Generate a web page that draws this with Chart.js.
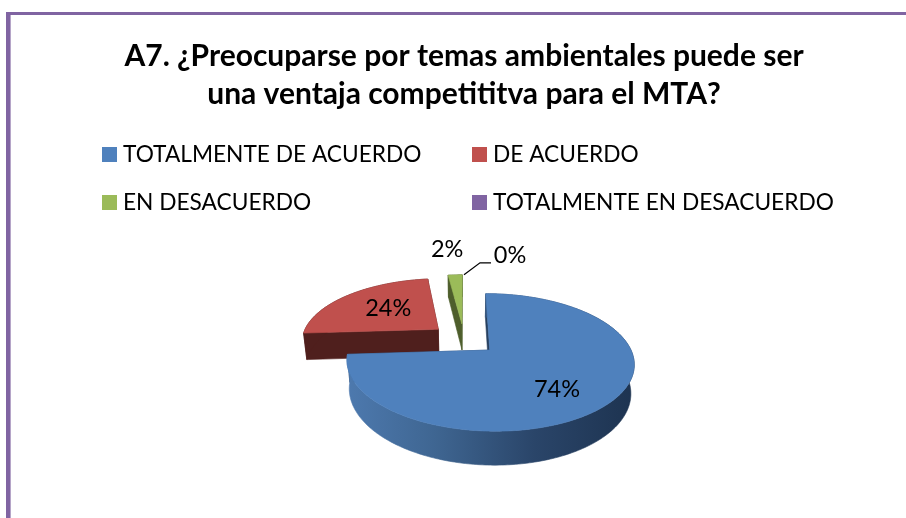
<!DOCTYPE html>
<html>
<head>
<meta charset="utf-8">
<style>
html,body{margin:0;padding:0;background:#fff;overflow:hidden;width:906px;height:518px}
#wrap{position:absolute;left:0;top:0;width:906px;height:518px}
#frame{position:absolute;left:6px;top:12px;width:2000px;height:2000px;border-top:3px solid #8064a2;border-left:4px solid #8064a2;box-shadow:inset 1px 0 0 #b5a5c8}
canvas{position:absolute;left:0;top:0}
</style>
</head>
<body>
<div id="frame"></div>
<div id="wrap"><canvas id="c" width="906" height="518"></canvas></div>
<script src="https://cdn.jsdelivr.net/npm/chart.js@4/dist/chart.umd.js"></script>
<script>
const titleLines = ['A7. ¿Preocuparse por temas ambientales puede ser', 'una ventaja competititva para el MTA?'];
const categories = ['TOTALMENTE DE ACUERDO', 'DE ACUERDO', 'EN DESACUERDO', 'TOTALMENTE EN DESACUERDO'];
const values = [74, 24, 2, 0];
const percentLabels = ['74%', '24%', '2%', '0%'];
const topColors = ['#4f81bd', '#c0504d', '#9bbb59', '#8064a2'];
const wallColors = ['#27405f', '#4f1f1d', '#4e5e2c', '#403251'];

const FONT = 'Lato, Carlito, sans-serif';
const PERSPECTIVE = 0.175, SQUASH = 63.5 / 139, DEPTH = 27, SHRINK = 0.02;
const legendCols = [102, 472], legendRows = [154.5, 202.5], SWATCH = 15, LEGEND_GAP = 21;
// label anchor per slice: radius fraction, and pixel nudge
const labelPlace = [[0.62, -4, 9], [0.62, 8, 1], [1.0, -8, -25], [1.0, 46, -19]];

function projector(arc) {
  const R = arc.outerRadius;
  return (u, v, low) => {
    const k = 1 / (1 - PERSPECTIVE * v);
    let x = R * u * k, y = R * SQUASH * v * k;
    if (low) { y += DEPTH * k; x *= (1 - SHRINK); }
    return [arc.x + x, arc.y + y];
  };
}
function sliceInfo(arc) {
  const R = arc.outerRadius, off = (arc.options.offset || 0) / 4 / R;
  const mid = (arc.startAngle + arc.endAngle) / 2;
  return {ox: Math.cos(mid) * off, oy: Math.sin(mid) * off, mid};
}
function poly(ctx, pts, fill) {
  ctx.beginPath();
  pts.forEach((p, i) => i ? ctx.lineTo(p[0], p[1]) : ctx.moveTo(p[0], p[1]));
  ctx.closePath();
  ctx.fillStyle = fill; ctx.strokeStyle = fill; ctx.lineWidth = 0.6;
  ctx.fill(); ctx.stroke();
}
function drawSlice(ctx, arc, i) {
  if (arc.endAngle - arc.startAngle <= 0) return;
  const P = projector(arc), s = sliceInfo(arc);
  const N = Math.max(4, Math.round((arc.endAngle - arc.startAngle) * 60));
  const rim = low => {
    const a = [];
    for (let k = 0; k <= N; k++) {
      const t = arc.startAngle + (arc.endAngle - arc.startAngle) * k / N;
      a.push(P(s.ox + Math.cos(t), s.oy + Math.sin(t), low));
    }
    return a;
  };
  const hi = rim(false), lo = rim(true);
  const apexHi = P(s.ox, s.oy, false), apexLo = P(s.ox, s.oy, true);
  // radial walls
  poly(ctx, [apexHi, hi[0], lo[0], apexLo], wallColors[i]);
  poly(ctx, [apexHi, hi[N], lo[N], apexLo], wallColors[i]);
  // outer wall
  let wall = wallColors[i];
  if (i === 0) {
    const g = ctx.createLinearGradient(hi[N][0], 0, hi[N][0] + 288, 0);
    g.addColorStop(0, '#4d79ae');
    g.addColorStop(0.3, '#3f6692');
    g.addColorStop(0.65, '#2a4569');
    g.addColorStop(1, '#1d3350');
    wall = g;
  }
  poly(ctx, hi.concat(lo.slice().reverse()), wall);
  // top face
  poly(ctx, [apexHi].concat(hi), topColors[i]);
}

const pie3d = {
  id: 'pie3d',
  beforeDatasetsDraw(chart) {
    const ctx = chart.ctx, arcs = chart.getDatasetMeta(0).data;
    ctx.save();
    [1, 2, 3, 0].forEach(i => drawSlice(ctx, arcs[i], i));
    ctx.restore();
    return false;
  },
  afterDraw(chart) {
    const ctx = chart.ctx, arcs = chart.getDatasetMeta(0).data;
    ctx.save();
    // percentage labels
    ctx.font = '23.5px ' + FONT; ctx.fillStyle = '#000';
    ctx.textAlign = 'center'; ctx.textBaseline = 'middle';
    const anchors = [];
    arcs.forEach((arc, i) => {
      const P = projector(arc), s = sliceInfo(arc), pl = labelPlace[i];
      const p = P(s.ox + Math.cos(s.mid) * pl[0], s.oy + Math.sin(s.mid) * pl[0], false);
      const lx = p[0] + pl[1], ly = p[1] + pl[2];
      anchors.push([lx, ly]);
      ctx.fillText(percentLabels[i], lx, ly);
    });
    // leader line of the empty slice
    const a = arcs[3], P = projector(a), s = sliceInfo(a);
    const from = P(s.ox, s.oy - 1, false);
    const lab = anchors[3];
    ctx.strokeStyle = '#000'; ctx.lineWidth = 1.2;
    ctx.beginPath();
    ctx.moveTo(from[0], from[1]);
    ctx.lineTo(lab[0] - 30, lab[1] + 7);
    ctx.lineTo(lab[0] - 19, lab[1] + 7);
    ctx.stroke();
    // legend
    ctx.font = '22.7px ' + FONT; ctx.textAlign = 'left';
    categories.forEach((c, i) => {
      const x = legendCols[i % 2], y = legendRows[i >> 1];
      ctx.fillStyle = topColors[i];
      ctx.fillRect(x, y - 7.5, SWATCH, SWATCH);
      ctx.fillStyle = '#000';
      ctx.fillText(c, x + LEGEND_GAP, y);
    });
    ctx.restore();
  }
};

new Chart(document.getElementById('c'), {
  type: 'pie',
  data: {
    labels: categories,
    datasets: [{
      data: values,
      backgroundColor: topColors,
      borderWidth: 0,
      radius: 137,
      offset: 137
    }]
  },
  options: {
    responsive: false,
    animation: false,
    rotation: 0,
    layout: {padding: {left: 22, right: 0, top: 0, bottom: 70}},
    plugins: {
      legend: {display: false},
      tooltip: {enabled: false},
      title: {
        display: true,
        text: titleLines,
        color: '#000',
        align: 'center',
        font: {family: FONT, size: 30, weight: 'bold', lineHeight: 1.27},
        padding: {top: 37, bottom: 116.8}
      }
    }
  },
  plugins: [pie3d]
});
</script>
</body>
</html>
